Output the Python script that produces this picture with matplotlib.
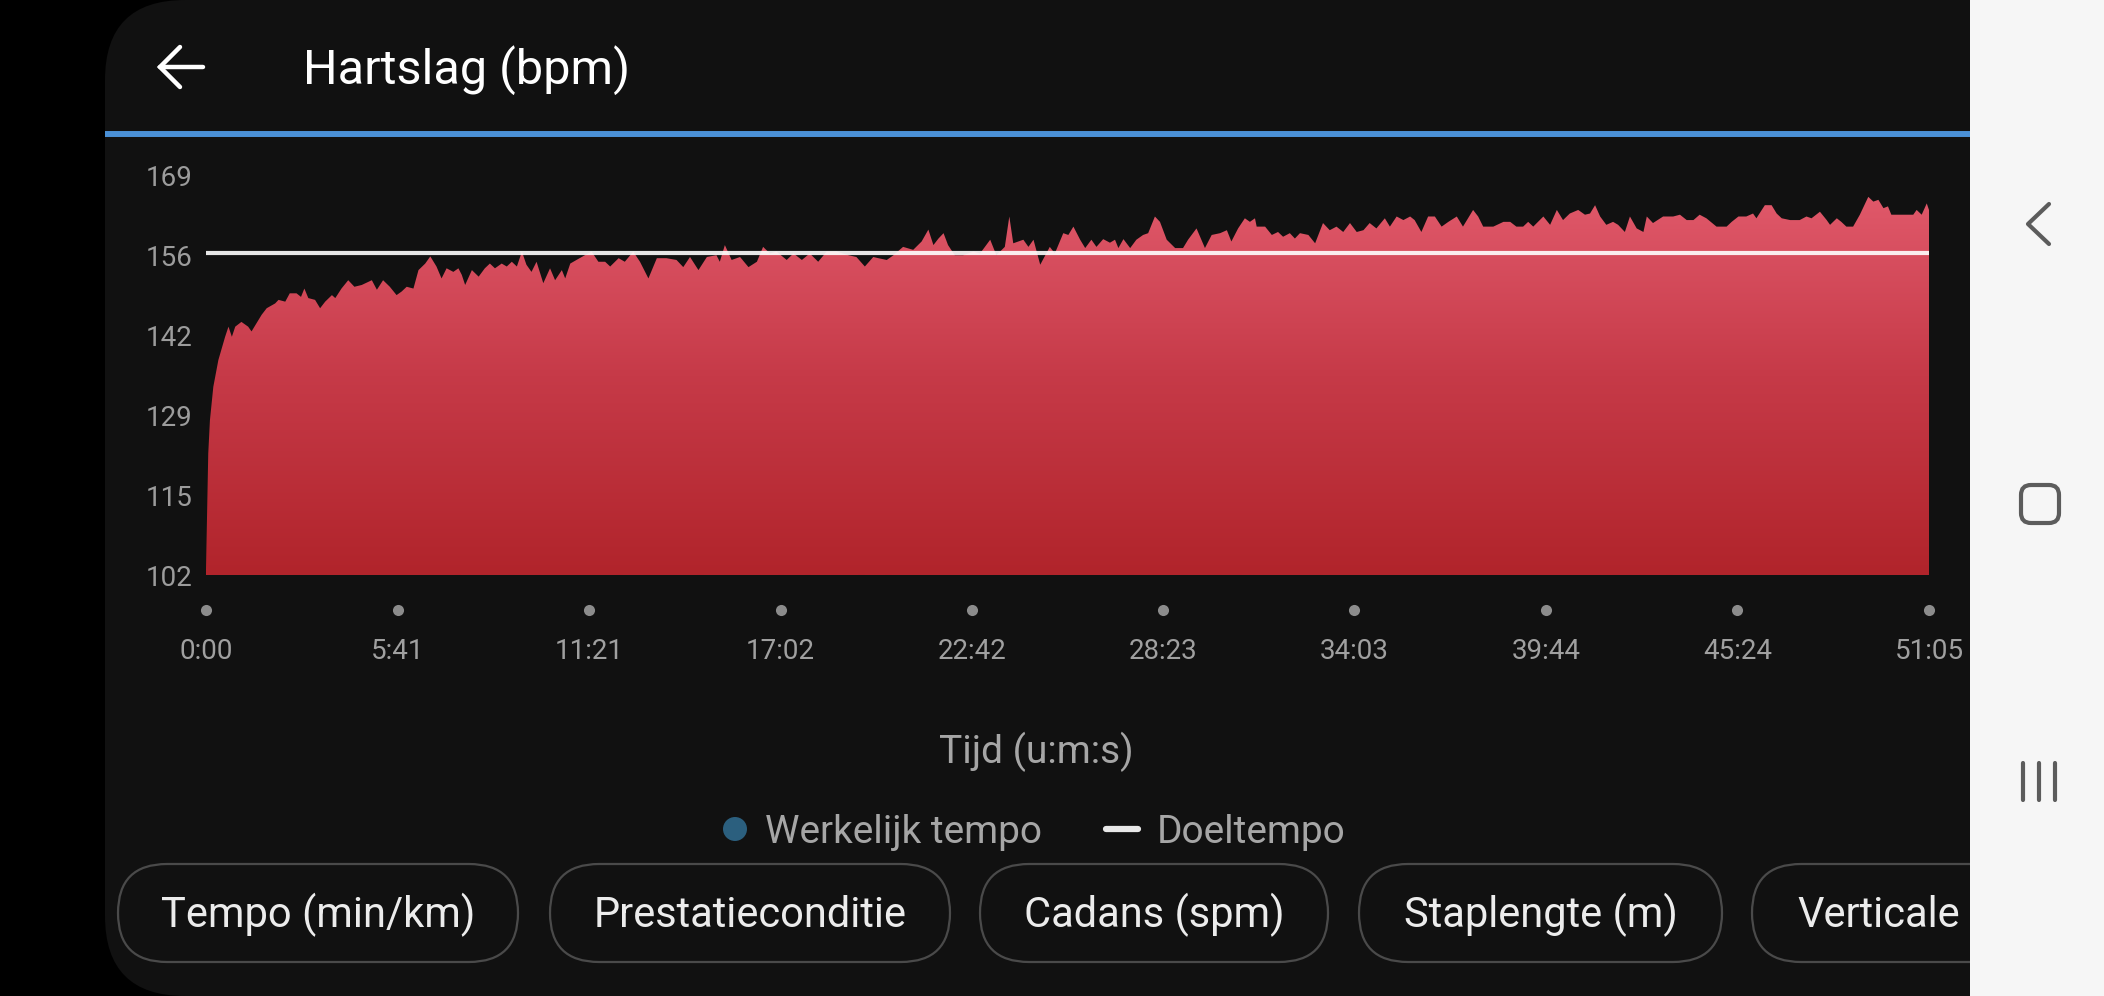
import numpy as np
import matplotlib
matplotlib.use("Agg")
import matplotlib.pyplot as plt
from matplotlib.patches import FancyBboxPatch, Rectangle, Circle
from matplotlib.transforms import blended_transform_factory
from matplotlib.colors import LinearSegmentedColormap

plt.rcParams['font.family'] = ['Roboto', 'DejaVu Sans']

# ---------------- data ----------------
title = "Hartslag (bpm)"
x_axis_title = "Tijd (u:m:s)"
legend_labels = ["Werkelijk tempo", "Doeltempo"]
buttons = ["Tempo (min/km)", "Prestatieconditie", "Cadans (spm)", "Staplengte (m)", "Verticale"]

x_tick_labels = ["0:00", "5:41", "11:21", "17:02", "22:42", "28:23", "34:03", "39:44", "45:24", "51:05"]
y_tick_labels = ["102", "115", "129", "142", "156", "169"]
y_min, y_max = 102, 169
goal_bpm = 156

time_s = [0, 4, 7, 13, 22, 34, 40, 46, 52, 63, 75, 81, 90, 99, 108, 123, 129, 141, 149, 161,
          169, 175, 182, 194, 203, 212, 224, 230, 241, 253, 264, 277, 295, 304, 315, 327, 339, 348, 357, 369,
          378, 390, 399, 410, 419, 428, 440, 449, 455, 461, 473, 485, 496, 505, 514, 526, 535, 544, 553, 562,
          570, 579, 588, 600, 612, 621, 633, 639, 648, 659, 674, 686, 698, 710, 719, 734, 745, 760, 772,
          787, 802, 819, 837, 849, 861, 876, 891, 908, 914, 923, 935, 950, 965, 980, 991, 1003, 1015, 1033,
          1045, 1060, 1074, 1089, 1104, 1122, 1143, 1157, 1172, 1187, 1196, 1211, 1223, 1240, 1258, 1273,
          1285, 1294, 1303, 1312, 1320, 1332, 1347, 1365, 1377, 1395, 1406, 1421, 1429, 1436, 1454, 1463,
          1472, 1484, 1501, 1510, 1525, 1534, 1543,
          1555, 1564, 1575, 1584, 1596, 1608, 1617, 1623, 1632, 1644, 1655, 1667, 1676, 1688, 1697, 1709,
          1724, 1738, 1747, 1762, 1777, 1789, 1804, 1816, 1824, 1836, 1848, 1857, 1866, 1869, 1884, 1896,
          1907, 1916, 1928, 1937, 1946, 1961, 1973, 1987, 1999, 2011, 2023, 2035, 2047, 2059, 2070, 2082,
          2097, 2106, 2118, 2130, 2142, 2150, 2162, 2174, 2186, 2198, 2210, 2225, 2236, 2245, 2254, 2263,
          2272, 2290, 2308,
          2320, 2331, 2343, 2352, 2361, 2379, 2391, 2403, 2414, 2426, 2441, 2453, 2462, 2471, 2480, 2491,
          2503, 2512, 2524, 2533, 2545, 2557, 2563, 2574, 2592, 2610, 2622, 2634, 2646, 2657, 2669, 2687,
          2705, 2714, 2726, 2740, 2752, 2758, 2773, 2785, 2794, 2803, 2818, 2835, 2847, 2856, 2871, 2883,
          2889, 2901, 2909, 2918, 2930, 2942, 2957, 2966, 2975, 2984, 2992, 2998, 3013, 3037, 3043, 3052,
          3061, 3065]

hr_bpm = [103, 122.4, 128.0, 133.6, 138.1, 142.0, 143.7, 142.0, 143.7, 144.5, 143.7, 142.9, 144.3, 145.7, 146.8, 147.6, 148.2, 147.9, 149.3, 149.3,
          148.7, 150.1, 148.5, 148.2, 146.8, 147.9, 149.0, 148.5, 150.1, 151.5, 150.4, 150.7, 151.5, 149.9, 151.5, 150.4, 149.0, 149.6, 150.4, 150.1,
          153.2, 154.3, 155.5, 153.8, 151.8, 153.5, 152.9, 153.5, 152.4, 150.7, 153.2, 152.1, 153.5, 154.3, 153.5, 154.3, 153.8, 154.6, 153.8, 156.3,
          154.1, 152.9, 154.6, 151.0, 153.5, 151.5, 153.2, 151.8, 154.3, 154.9, 155.7, 156.3, 154.6, 154.6, 153.8, 155.2, 154.6, 156.3, 154.6,
          151.8, 155.2, 155.2, 154.9, 153.7, 155.4, 153.2, 155.4, 155.7, 154.6, 157.4, 154.9, 155.4, 153.7, 154.6, 157.1, 156.0, 156.3, 154.9,
          156.0, 154.9, 156.0, 154.6, 156.3, 156.3, 155.7, 155.4, 153.8, 155.4, 155.2, 154.9, 155.7, 157.1, 156.6, 158.0,
          160.0, 157.4, 158.5, 159.4, 157.4, 155.7, 155.7, 156.3, 156.0, 158.3, 155.7, 157.1, 162.2, 157.7, 158.3, 157.1,
          158.3, 154.1, 157.1, 156.0, 159.4, 159.1, 160.5,
          158.3, 156.9, 158.3, 157.1, 158.4, 157.8, 158.3, 156.9, 158.4, 156.9, 158.3, 159.1, 159.4, 162.2, 161.3, 158.3,
          156.9, 156.9, 158.3, 160.2, 156.9, 159.1, 159.4, 159.9, 158.0, 160.2, 161.9, 161.3, 161.9, 160.5, 160.5, 159.1,
          159.6, 158.8, 159.4, 158.5, 159.4, 159.1, 157.7, 161.1, 159.9, 160.5, 159.6, 161.1, 159.6, 159.9, 161.1, 160.2,
          161.9, 160.5, 162.2, 161.6, 162.2, 161.6, 159.6, 162.2, 162.2, 160.5, 161.3, 162.2, 160.5, 161.9, 163.3, 162.2,
          160.5, 160.5, 161.3,
          161.3, 160.5, 160.5, 161.3, 160.5, 162.2, 160.8, 163.3, 161.6, 162.7, 163.3, 162.5, 162.7, 164.1, 162.2, 160.8,
          161.3, 160.8, 159.6, 162.2, 160.2, 159.6, 162.2, 161.1, 162.2, 162.2, 162.5, 161.6, 161.6, 162.5, 161.9, 160.5,
          160.5, 161.3, 162.2, 162.2, 162.7, 161.9, 164.1, 164.1, 162.7, 161.9, 161.6, 161.6, 162.2, 161.9, 163.0, 161.6,
          160.8, 161.9, 161.3, 160.5, 160.5, 162.5, 165.5, 164.7, 165.0, 163.6, 163.9, 162.5, 162.5, 162.5, 163.3, 162.5,
          164.4, 163.3]

# ---------------- figure ----------------
W, H = 2104, 996
fig = plt.figure(figsize=(W / 100, H / 100), dpi=100)
fig.patch.set_facecolor('black')

ui = fig.add_axes([0, 0, 1, 1])
ui.set_xlim(0, W)
ui.set_ylim(H, 0)
ui.axis('off')

APP_BG = '#111111'
ui.add_patch(FancyBboxPatch((105, 0), 2200, H, boxstyle="round,pad=0,rounding_size=80",
                            fc=APP_BG, ec='none', zorder=1))

# header
ui.plot([160, 203], [67, 67], color='white', lw=3.2, solid_capstyle='round', zorder=3)
ui.plot([180, 160, 180], [47, 67, 87], color='white', lw=3.2, solid_capstyle='round',
        solid_joinstyle='miter', zorder=3)
ui.text(303, 84, title, color='white', fontsize=35, va='baseline', ha='left', zorder=3)
ui.plot([105, 1970], [134, 134], color='#4a90d6', lw=4.3, solid_capstyle='butt', zorder=3)

# axis title and legend
ui.text(1036, 763, x_axis_title, color='#a6a6a6', fontsize=28, ha='center', va='baseline', zorder=3)
ui.add_patch(Circle((735, 829), 12, fc='#2b5f7e', ec='none', zorder=3))
ui.text(765, 843, legend_labels[0], color='#a6a6a6', fontsize=28, ha='left', va='baseline', zorder=3)
ui.plot([1106, 1138], [829, 829], color='#e8e8e8', lw=4.5, solid_capstyle='round', zorder=3)
ui.text(1157, 843, legend_labels[1], color='#a6a6a6', fontsize=28, ha='left', va='baseline', zorder=3)

# buttons (pills)
pill_x = [(118, 518), (550, 950), (980, 1328), (1359, 1722), (1752, 2200)]
for (x0, x1), label in zip(pill_x, buttons):
    ui.add_patch(FancyBboxPatch((x0, 864), x1 - x0, 98, boxstyle="round,pad=0,rounding_size=49",
                                fc='none', ec='#4a4a4a', lw=1.6, zorder=3))
    if label == buttons[-1]:
        ui.text(x0 + 45, 927, label, color='#ececec', fontsize=30, ha='left', va='baseline', zorder=3)
    else:
        ui.text((x0 + x1) / 2, 927, label, color='#ececec', fontsize=30, ha='center', va='baseline', zorder=3)

# navigation bar
ui.add_patch(Rectangle((1970, 0), W - 1970, H, fc='#f6f6f6', ec='none', zorder=5))
NAV = '#5c5c5c'
ui.plot([2049, 2028, 2049], [204, 224, 244], color=NAV, lw=3, solid_capstyle='round', zorder=6)
ui.add_patch(FancyBboxPatch((2021, 485), 38, 38, boxstyle="round,pad=0,rounding_size=10",
                            fc='none', ec=NAV, lw=3, zorder=6))
for bx in (2023, 2039, 2055):
    ui.plot([bx, bx], [763, 800], color=NAV, lw=3, solid_capstyle='round', zorder=6)

# ---------------- chart ----------------
px_left, px_right, px_top, px_bottom = 206, 1929, 176, 575
ax = fig.add_axes([px_left / W, 1 - px_bottom / H, (px_right - px_left) / W, (px_bottom - px_top) / H])
ax.set_facecolor('none')
for s in ax.spines.values():
    s.set_visible(False)

t = np.array(time_s, dtype=float)
hr = np.array(hr_bpm, dtype=float)
ax.set_xlim(t[0], t[-1])
ax.set_ylim(y_min, y_max)

poly = ax.fill_between(t, hr, y_min, color='none', lw=0)
cmap = LinearSegmentedColormap.from_list('hr', ['#b1242b', '#c63a48', '#e35c6e'])
grad = np.linspace(0, 1, 256).reshape(-1, 1)
im = ax.imshow(grad, cmap=cmap, aspect='auto', origin='lower',
               extent=[t[0], t[-1], y_min, y_max], zorder=2, interpolation='bilinear')
im.set_clip_path(poly.get_paths()[0], transform=ax.transData)

ax.plot([t[0], t[-1]], [goal_bpm, goal_bpm], color='white', lw=3.0, alpha=0.9, zorder=3,
        solid_capstyle='butt')

ax.set_yticks(np.linspace(y_min, y_max, len(y_tick_labels)))
ax.set_yticklabels(y_tick_labels)
ax.tick_params(axis='y', length=0, pad=10, labelsize=20, labelcolor='#9c9c9c')


def to_sec(s):
    m, sec = s.split(':')
    return int(m) * 60 + int(sec)


tick_secs = [to_sec(s) for s in x_tick_labels]
ax.set_xticks(tick_secs)
ax.tick_params(axis='x', length=0, labelbottom=False)
trans = blended_transform_factory(ax.transData, ax.transAxes)
dot_y = -(610 - px_bottom) / (px_bottom - px_top)
lab_y = -(659 - px_bottom) / (px_bottom - px_top)
ax.plot(tick_secs, [dot_y] * len(tick_secs), 'o', ms=8, color='#8c8c8c', mec='none',
        transform=trans, clip_on=False)
for xs, lab in zip(tick_secs, x_tick_labels):
    ax.text(xs, lab_y, lab, transform=trans, ha='center', va='baseline', fontsize=20,
            color='#a0a0a0', clip_on=False)

fig.savefig('out.png', dpi=100, facecolor=fig.get_facecolor())
